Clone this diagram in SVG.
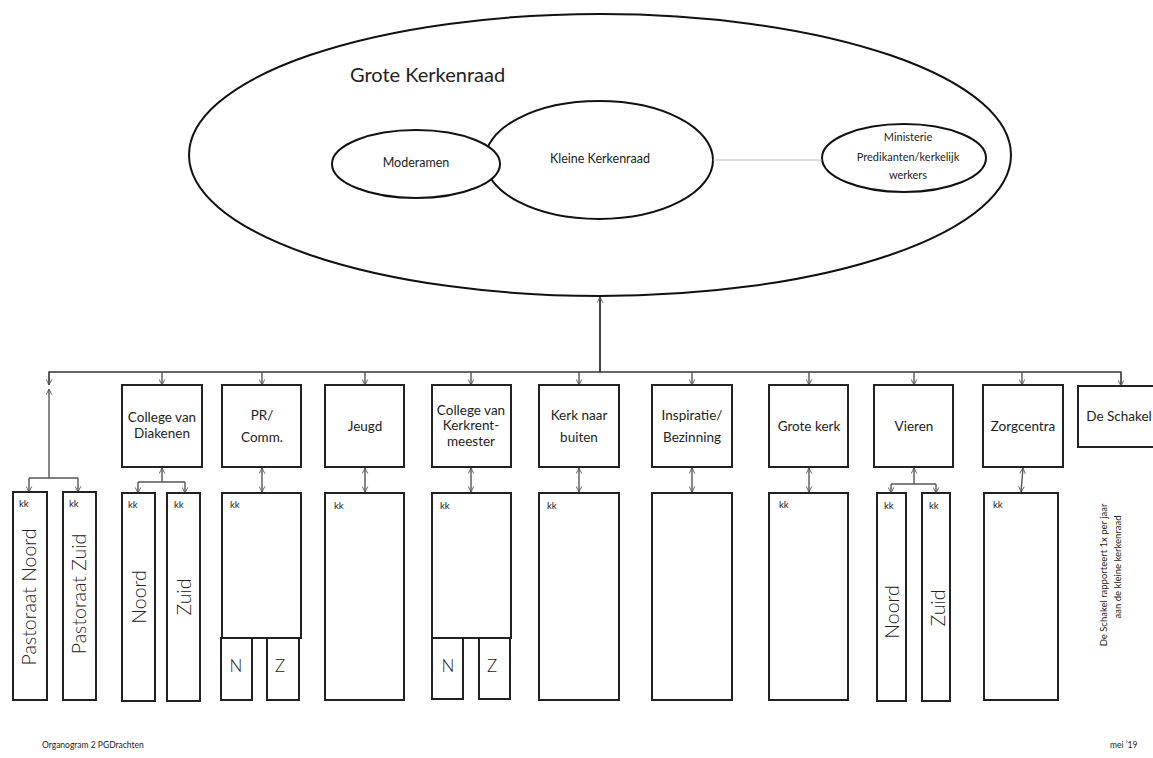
<svg xmlns="http://www.w3.org/2000/svg" width="1153" height="758" viewBox="0 0 1153 758">
<defs>
<marker id="ah" viewBox="0 0 10 10" refX="9" refY="5" markerWidth="7" markerHeight="7" orient="auto-start-reverse" markerUnits="userSpaceOnUse">
<path d="M1,1 L9,5 L1,9" fill="none" stroke="#555" stroke-width="1.3"/>
</marker>
</defs>
<style>
text{font-family:Lato,"Open Sans","Liberation Sans",sans-serif;fill:#222}
.bx{fill:#fff;stroke:#222;stroke-width:2}
.el{fill:#fff;stroke:#111;stroke-width:2}
.c{fill:none;stroke:#555;stroke-width:1.4}
.a{marker-end:url(#ah)}
.d{marker-start:url(#ah);marker-end:url(#ah)}
.t{font-size:13.5px;text-anchor:middle}
.kk{font-size:9.5px}
.v{font-size:19.5px;font-weight:300;text-anchor:middle;dominant-baseline:central}
.nz{font-size:17px;font-weight:300;text-anchor:middle}
</style>
<rect width="1153" height="758" fill="#fff"/>

<g id="grote-kerkenraad">
<ellipse class="el" cx="600" cy="155" rx="411" ry="141"/>
<text x="350" y="82" style="font-size:20px">Grote Kerkenraad</text>
</g>
<g id="kleine-kerkenraad">
<ellipse class="el" cx="599" cy="160" rx="114" ry="59"/>
<text class="t" x="600" y="163" style="font-size:12.5px">Kleine Kerkenraad</text>
</g>
<g id="moderamen">
<ellipse class="el" cx="416" cy="164" rx="84" ry="34"/>
<text class="t" x="416" y="167" style="font-size:12.5px">Moderamen</text>
</g>
<g id="ministerie">
<ellipse class="el" cx="904" cy="158" rx="82" ry="34"/>
<text class="t" x="908" y="141" style="font-size:11px">Ministerie</text>
<text class="t" x="908" y="161" style="font-size:11px">Predikanten/kerkelijk</text>
<text class="t" x="908" y="179" style="font-size:11px">werkers</text>
</g>

<g id="connectors">
<line x1="713" y1="160" x2="822" y2="160" stroke="#bbb" stroke-width="1"/>
<line class="c a" x1="600" y1="372" x2="600" y2="297" style="stroke:#333;stroke-width:1.8"/>
<polyline class="c" points="49,385 49,372 1121,372 1121,384" style="stroke:#333"/>
<line class="c a" x1="49" y1="372" x2="49" y2="385"/>
<line class="c a" x1="162" y1="372" x2="162" y2="385"/>
<line class="c a" x1="262" y1="372" x2="262" y2="385"/>
<line class="c a" x1="365" y1="372" x2="365" y2="385"/>
<line class="c a" x1="471" y1="372" x2="471" y2="385"/>
<line class="c a" x1="579" y1="372" x2="579" y2="385"/>
<line class="c a" x1="692" y1="372" x2="692" y2="385"/>
<line class="c a" x1="809" y1="372" x2="809" y2="385"/>
<line class="c a" x1="914" y1="372" x2="914" y2="385"/>
<line class="c a" x1="1022" y1="372" x2="1022" y2="385"/>
<line class="c a" x1="1121" y1="372" x2="1121" y2="386"/>
<!-- pastoraat -->
<line class="c a" x1="49" y1="478" x2="49" y2="389"/>
<polyline class="c" points="29,478 78,478"/>
<line class="c a" x1="29" y1="478" x2="29" y2="492"/>
<line class="c a" x1="78" y1="478" x2="78" y2="492"/>
<!-- diakenen -->
<line class="c a" x1="162" y1="482" x2="162" y2="468"/>
<polyline class="c" points="138,482 185,482"/>
<line class="c a" x1="138" y1="482" x2="138" y2="493"/>
<line class="c a" x1="185" y1="482" x2="185" y2="493"/>
<!-- double arrows -->
<line class="c d" x1="262" y1="468" x2="262" y2="492"/>
<line class="c d" x1="365" y1="468" x2="365" y2="492"/>
<line class="c d" x1="471" y1="468" x2="471" y2="492"/>
<line class="c d" x1="579" y1="468" x2="579" y2="492"/>
<line class="c d" x1="692" y1="468" x2="692" y2="492"/>
<line class="c d" x1="809" y1="468" x2="809" y2="492"/>
<line class="c d" x1="1023" y1="468" x2="1021" y2="492"/>
<!-- vieren -->
<line class="c a" x1="914" y1="484" x2="914" y2="468"/>
<polyline class="c" points="891,484 936,484"/>
<line class="c a" x1="891" y1="484" x2="891" y2="493"/>
<line class="c a" x1="936" y1="484" x2="936" y2="493"/>
</g>

<g id="college-diakenen"><rect class="bx" x="122" y="385" width="80" height="82"/><text class="t" x="162" y="422">College van</text><text class="t" x="162" y="438">Diakenen</text></g>
<g id="pr-comm"><rect class="bx" x="222" y="385" width="79" height="82"/><text class="t" x="262" y="420">PR/</text><text class="t" x="262" y="442">Comm.</text></g>
<g id="jeugd"><rect class="bx" x="325" y="385" width="79" height="82"/><text class="t" x="365" y="431">Jeugd</text></g>
<g id="college-kerkrentmeester"><rect class="bx" x="432" y="385" width="79" height="82"/><text class="t" x="471" y="415">College van</text><text class="t" x="471" y="430">Kerkrent-</text><text class="t" x="471" y="446">meester</text></g>
<g id="kerk-naar-buiten"><rect class="bx" x="539" y="385" width="80" height="82"/><text class="t" x="579" y="420">Kerk naar</text><text class="t" x="579" y="442">buiten</text></g>
<g id="inspiratie"><rect class="bx" x="652" y="385" width="80" height="82"/><text class="t" x="692" y="420">Inspiratie/</text><text class="t" x="692" y="442">Bezinning</text></g>
<g id="grote-kerk"><rect class="bx" x="769" y="385" width="79" height="82"/><text class="t" x="809" y="431">Grote kerk</text></g>
<g id="vieren"><rect class="bx" x="874" y="385" width="79" height="82"/><text class="t" x="914" y="431">Vieren</text></g>
<g id="zorgcentra"><rect class="bx" x="983" y="385" width="80" height="82"/><text class="t" x="1023" y="431">Zorgcentra</text></g>
<g id="de-schakel"><rect class="bx" x="1078" y="386" width="90" height="61"/><text class="t" x="1119" y="421">De Schakel</text></g>

<g id="pastoraat-noord"><rect class="bx" x="13" y="492" width="34" height="208"/><text class="kk" x="19" y="507">kk</text><text class="v" transform="translate(28,597) rotate(-90)">Pastoraat Noord</text></g>
<g id="pastoraat-zuid"><rect class="bx" x="63" y="492" width="33" height="208"/><text class="kk" x="69" y="507">kk</text><text class="v" transform="translate(78,594) rotate(-90)">Pastoraat Zuid</text></g>
<g id="diak-noord"><rect class="bx" x="122" y="493" width="33" height="208"/><text class="kk" x="128" y="508">kk</text><text class="v" transform="translate(138,597) rotate(-90)">Noord</text></g>
<g id="diak-zuid"><rect class="bx" x="167" y="493" width="33" height="208"/><text class="kk" x="174" y="508">kk</text><text class="v" transform="translate(183,597) rotate(-90)">Zuid</text></g>
<g id="pr-lower"><rect class="bx" x="222" y="493" width="79" height="145"/><text class="kk" x="230" y="508">kk</text></g>
<g id="pr-n"><rect class="bx" x="221" y="638" width="31" height="62"/><text class="nz" x="236" y="672">N</text></g>
<g id="pr-z"><rect class="bx" x="267" y="638" width="32" height="62"/><text class="nz" x="280" y="672">Z</text></g>
<g id="jeugd-lower"><rect class="bx" x="325" y="493" width="79" height="207"/><text class="kk" x="334" y="509">kk</text></g>
<g id="kerkrent-lower"><rect class="bx" x="432" y="493" width="79" height="145"/><text class="kk" x="440" y="509">kk</text></g>
<g id="kerkrent-n"><rect class="bx" x="432" y="638" width="31" height="61"/><text class="nz" x="448" y="672">N</text></g>
<g id="kerkrent-z"><rect class="bx" x="479" y="638" width="31" height="61"/><text class="nz" x="492" y="672">Z</text></g>
<g id="kerk-naar-buiten-lower"><rect class="bx" x="539" y="493" width="80" height="207"/><text class="kk" x="547" y="509">kk</text></g>
<g id="inspiratie-lower"><rect class="bx" x="652" y="493" width="80" height="207"/></g>
<g id="grote-kerk-lower"><rect class="bx" x="769" y="493" width="79" height="207"/><text class="kk" x="779" y="508">kk</text></g>
<g id="vieren-noord"><rect class="bx" x="877" y="493" width="29" height="208"/><text class="kk" x="884" y="509">kk</text><text class="v" transform="translate(891,612) rotate(-90)">Noord</text></g>
<g id="vieren-zuid"><rect class="bx" x="922" y="493" width="28" height="208"/><text class="kk" x="929" y="509">kk</text><text class="v" transform="translate(937,608) rotate(-90)">Zuid</text></g>
<g id="zorgcentra-lower"><rect class="bx" x="984" y="493" width="74" height="207"/><text class="kk" x="993" y="508">kk</text></g>

<g id="note">
<text transform="translate(1103,575) rotate(-90)" style="font-size:9.5px;text-anchor:middle;dominant-baseline:central">De Schakel rapporteert 1x per jaar</text>
<text transform="translate(1117,567) rotate(-90)" style="font-size:9.5px;text-anchor:middle;dominant-baseline:central">aan de kleine kerkenraad</text>
</g>
<text x="42" y="748" style="font-size:8.5px">Organogram 2 PGDrachten</text>
<text x="1110" y="748" style="font-size:8.5px">mei ’19</text>
</svg>
